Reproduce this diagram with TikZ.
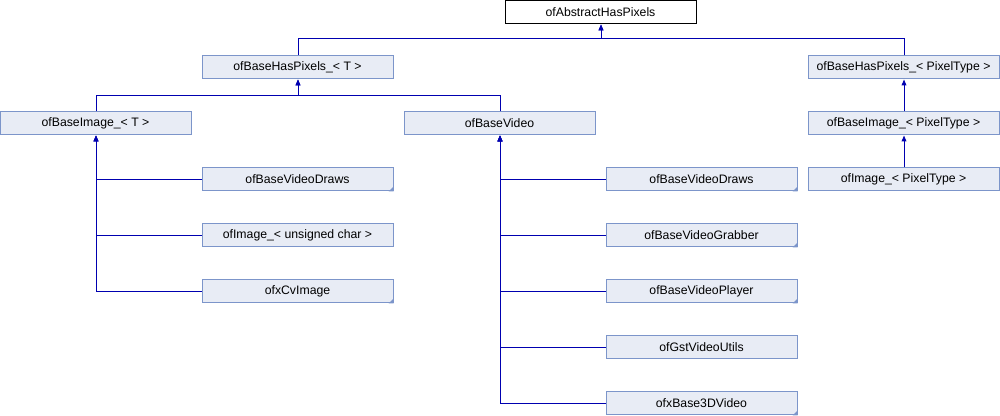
\documentclass[tikz,border=0pt]{standalone}
\usepackage{fontspec}
\setmainfont{Liberation Sans}
\usetikzlibrary{arrows.meta}

\definecolor{boxfill}{RGB}{232,236,245}
\definecolor{boxline}{RGB}{124,149,202}
\definecolor{edgeblue}{RGB}{0,0,176}

\tikzset{every picture/.style={line width=0.75pt}}
\tikzset{
  classbox/.style={draw=boxline, fill=boxfill, minimum width=143.25pt, minimum height=17.25pt,
    inner sep=0pt, font=\fontsize{9.2}{11}\selectfont},
  rootbox/.style={classbox, draw=black, fill=white},
  inherit/.style={draw=edgeblue, -{Triangle[length=4.5pt,width=3.6pt,fill=edgeblue]}},
  hpx/.style={xshift=0.375pt},   % half a pixel right
  vpx/.style={yshift=0.375pt},   % half a pixel down
}

\begin{document}
\begin{tikzpicture}[x=0.75pt,y=0.75pt,yscale=-1,xscale=1]
  \useasboundingbox (0,0) rectangle (1000,416);

  % base classes
  \node[rootbox]  (abs)   at (600.5,12.5)  {ofAbstractHasPixels};
  \node[classbox] (bhpT)  at (297.5,67.5)  {ofBaseHasPixels\_< T >};
  \node[classbox] (bhpP)  at (903.5,67.5)  {ofBaseHasPixels\_< PixelType >};
  \node[classbox] (biT)   at (95.5,123.5)  {ofBaseImage\_< T >};
  \node[classbox] (bvid)  at (499.5,123.5) {ofBaseVideo};
  \node[classbox] (biP)   at (903.5,123.5) {ofBaseImage\_< PixelType >};
  \node[classbox] (imgP)  at (903.5,179.5) {ofImage\_< PixelType >};

  % children of ofBaseImage_< T >
  \node[classbox] (drawsL) at (297.5,179.5) {ofBaseVideoDraws};
  \node[classbox] (imgUC)  at (297.5,235.5) {ofImage\_< unsigned char >};
  \node[classbox] (cvimg)  at (297.5,291.5) {ofxCvImage};

  % children of ofBaseVideo
  \node[classbox] (drawsR)  at (701.5,179.5) {ofBaseVideoDraws};
  \node[classbox] (grabber) at (701.5,235.5) {ofBaseVideoGrabber};
  \node[classbox] (player)  at (701.5,291.5) {ofBaseVideoPlayer};
  \node[classbox] (gst)     at (701.5,347.5) {ofGstVideoUtils};
  \node[classbox] (base3d)  at (701.5,403.5) {ofxBase3DVideo};

  % corner marks
  \foreach \n in {drawsL,cvimg,drawsR,grabber,player,base3d}
    \fill[boxline] (\n.south east) -- ++(-5,0) -- ++(5,-5) -- cycle;

  % inheritance
  \draw[inherit] ([hpx]bhpT.north) -- ++(0,-16.5) -| ([hpx]abs.south);
  \draw[inherit] ([hpx]bhpP.north) -- ++(0,-16.5) -| ([hpx]abs.south);
  \draw[inherit] ([hpx]biT.north) -- ++(0,-15.5) -| ([hpx]bhpT.south);
  \draw[inherit] ([hpx]bvid.north) -- ++(0,-15.5) -| ([hpx]bhpT.south);
  \draw[inherit] ([hpx]biP.north) -- ([hpx]bhpP.south);
  \draw[inherit] ([hpx]imgP.north) -- ([hpx]biP.south);
  \foreach \n in {drawsL,imgUC,cvimg}
    \draw[inherit] ([vpx]\n.west) -| ([hpx]biT.south);
  \foreach \n in {drawsR,grabber,player,gst,base3d}
    \draw[inherit] ([vpx]\n.west) -| ([hpx]bvid.south);

\end{tikzpicture}
\end{document}
